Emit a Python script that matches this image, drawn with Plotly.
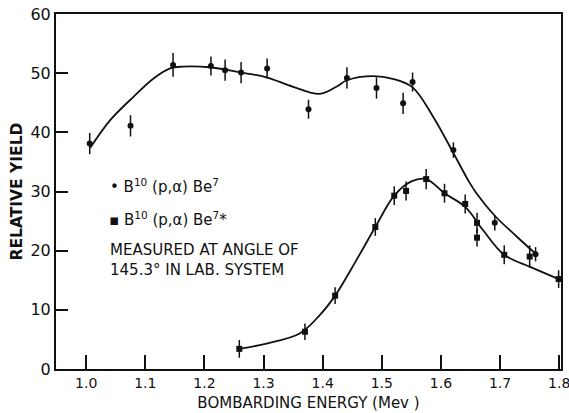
import plotly.graph_objects as go

# Measured points: B10(p,alpha)Be7 (circles)
gs_x = [1.006, 1.075, 1.147, 1.211, 1.235, 1.262, 1.306, 1.376, 1.441, 1.491, 1.536, 1.552, 1.621, 1.691, 1.760]
gs_y = [38.1, 41.1, 51.4, 51.2, 50.5, 50.1, 50.8, 43.9, 49.2, 47.5, 44.9, 48.5, 37.0, 24.7, 19.4]
gs_err = [1.8, 1.8, 2.0, 1.6, 1.8, 1.8, 1.7, 1.6, 1.8, 1.8, 1.8, 1.6, 1.3, 1.3, 1.2]

# Measured points: B10(p,alpha)Be7* (squares)
ex_x = [1.259, 1.370, 1.421, 1.489, 1.521, 1.541, 1.575, 1.606, 1.641, 1.661, 1.661, 1.707, 1.750, 1.799]
ex_y = [3.4, 6.3, 12.4, 24.0, 29.3, 30.1, 32.1, 29.7, 27.9, 24.7, 22.2, 19.3, 19.0, 15.2]
ex_err = [1.5, 1.4, 1.4, 1.5, 1.6, 1.6, 1.7, 1.6, 1.6, 1.7, 1.5, 1.6, 1.9, 1.5]

# Hand-drawn fitted curves
c1_x = [1.007, 1.041, 1.080, 1.114, 1.142, 1.162, 1.209, 1.262, 1.305, 1.350, 1.395, 1.423, 1.441,
        1.485, 1.520, 1.552, 1.587, 1.621, 1.646, 1.660, 1.691, 1.728, 1.761]
c1_y = [37.4, 42.1, 46.0, 49.1, 50.8, 51.1, 51.0, 50.1, 49.3, 47.7, 46.5, 47.7, 48.8,
        49.5, 49.0, 47.6, 42.6, 36.5, 31.9, 29.7, 25.9, 22.4, 19.4]

c2_x = [1.259, 1.305, 1.361, 1.395, 1.421, 1.457, 1.489, 1.521, 1.550, 1.575, 1.606, 1.641,
        1.671, 1.707, 1.750, 1.799]
c2_y = [3.4, 4.3, 6.0, 9.1, 12.4, 18.4, 24.0, 29.3, 31.7, 32.1, 29.7, 27.4,
        23.5, 19.3, 17.3, 15.2]

x_ticks = [1.0, 1.1, 1.2, 1.3, 1.4, 1.5, 1.6, 1.7, 1.8]
x_labels = ["1.0", "1.1", "1.2", "1.3", "1.4", "1.5", "1.6", "1.7", "1.8"]
y_ticks = [0, 10, 20, 30, 40, 50, 60]

FONT = "DejaVu Sans"
INK = "#111111"

fig = go.Figure()
fig.add_trace(go.Scatter(x=c1_x, y=c1_y, mode="lines", line=dict(color=INK, width=1.8, shape="spline", smoothing=1.0),
                         hoverinfo="skip", showlegend=False))
fig.add_trace(go.Scatter(x=c2_x, y=c2_y, mode="lines", line=dict(color=INK, width=1.8, shape="spline", smoothing=1.0),
                         hoverinfo="skip", showlegend=False))
fig.add_trace(go.Scatter(x=gs_x, y=gs_y, mode="markers",
                         marker=dict(symbol="circle", size=6, color=INK),
                         error_y=dict(type="data", array=gs_err, color=INK, thickness=1.5, width=0),
                         showlegend=False))
fig.add_trace(go.Scatter(x=ex_x, y=ex_y, mode="markers",
                         marker=dict(symbol="square", size=6, color=INK),
                         error_y=dict(type="data", array=ex_err, color=INK, thickness=1.5, width=0),
                         showlegend=False))

ann_font = dict(family=FONT, size=15, color=INK)
fig.add_annotation(xref="paper", yref="paper", x=0.103, y=0.515, xanchor="left", yanchor="middle",
                   text="• B<sup>10</sup> (p,α) Be<sup>7</sup>", showarrow=False, font=ann_font)
fig.add_annotation(xref="paper", yref="paper", x=0.100, y=0.4225, xanchor="left", yanchor="middle",
                   text="▪ B<sup>10</sup> (p,α) Be<sup>7</sup>*", showarrow=False, font=ann_font)
fig.add_annotation(xref="paper", yref="paper", x=0.103, y=0.306, xanchor="left", yanchor="middle",
                   text="MEASURED AT ANGLE OF<br>145.3° IN LAB. SYSTEM", align="left",
                   showarrow=False, font=ann_font)

fig.update_layout(
    width=569, height=413,
    margin=dict(l=56, r=8, t=14, b=44),
    paper_bgcolor="white", plot_bgcolor="white",
    font=dict(family=FONT, size=14, color=INK),
    xaxis=dict(range=[0.949, 1.803], tickvals=x_ticks, ticktext=x_labels, ticks="inside", ticklen=14,
               tickwidth=1.5, tickcolor=INK, showline=True, linecolor=INK, linewidth=2, mirror=True,
               showgrid=False, zeroline=False, tickfont=dict(size=14), automargin=False,
               ticklabeloverflow="allow",
               title=dict(text="BOMBARDING ENERGY (Mev )", font=dict(size=15), standoff=8)),
    yaxis=dict(range=[0, 60], tickvals=y_ticks, ticks="inside", ticklen=12, tickwidth=1.5, tickcolor=INK,
               showline=True, linecolor=INK, linewidth=2, mirror=True, showgrid=False, zeroline=False,
               tickfont=dict(size=16), automargin=False, ticklabeloverflow="allow",
               title=dict(text="<b>RELATIVE YIELD</b>", font=dict(size=15.5), standoff=4)),
)

fig.write_html("out.html", config={"displayModeBar": False},
               post_script="document.body.style.margin='0';document.body.style.overflow='hidden';")
